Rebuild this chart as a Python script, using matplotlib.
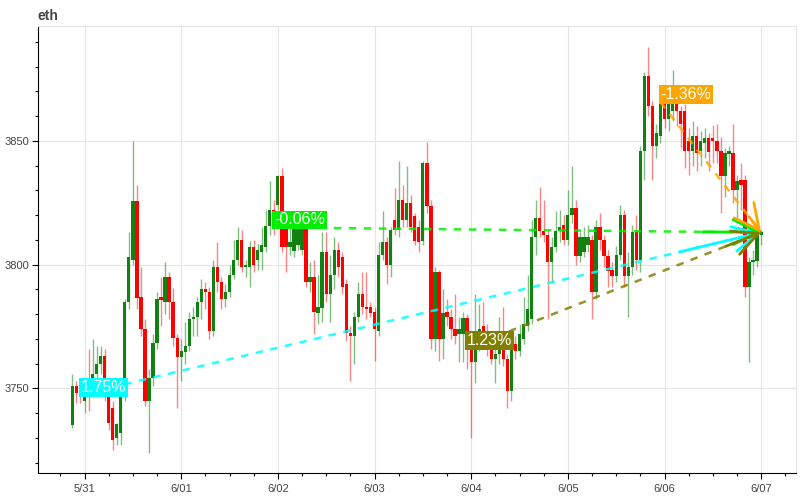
import matplotlib
matplotlib.use('Agg')
import matplotlib.pyplot as plt
import matplotlib.dates as mdates
from matplotlib.ticker import FuncFormatter, MultipleLocator
import numpy as np
import pandas as pd

plt.rcParams['font.family'] = ['Liberation Sans', 'DejaVu Sans']

# hourly candles, eth
times = pd.date_range('2024-05-30 21:00', periods=172, freq='h')

opens = [3735, 3751, 3748, 3745, 3752, 3749, 3756, 3760, 3763, 3748, 3742, 3730, 3732, 3747,
         3785, 3802, 3825.5, 3787, 3774, 3745, 3754, 3768.5, 3787, 3785, 3795, 3785, 3770.5,
         3762.5, 3764.5, 3767, 3778, 3779, 3785, 3790, 3789, 3773, 3799, 3793, 3786, 3789,
         3796, 3802, 3810, 3799, 3799, 3807, 3802, 3805, 3807, 3815.5, 3822, 3824, 3835.6,
         3815, 3807, 3805.5, 3808, 3806, 3815, 3793, 3795, 3780.6, 3782.6, 3805, 3788, 3796,
         3806, 3803, 3792, 3772.5, 3771, 3779, 3788, 3783, 3783, 3781, 3773, 3804, 3809, 3800,
         3818, 3814, 3826, 3818, 3825, 3819.5, 3815, 3809.5, 3841, 3823.5, 3770, 3797, 3770,
         3781, 3779, 3774, 3772, 3772, 3778.6, 3766, 3760.5, 3768, 3775, 3771, 3767, 3762,
         3764, 3771, 3762, 3749, 3768, 3765, 3770, 3775, 3778, 3811, 3819, 3813.5, 3812, 3801,
         3807, 3813.5, 3816, 3810, 3820, 3823, 3803.5, 3805, 3808, 3810, 3789, 3815, 3810,
         3803.5, 3798, 3795.5, 3804, 3820, 3795.5, 3799, 3813, 3802, 3846, 3876, 3864, 3848,
         3852, 3866, 3859, 3862, 3866.5, 3862, 3862, 3850, 3846, 3852, 3846, 3849, 3851, 3851,
         3850, 3845.7, 3835.6, 3844.5, 3845, 3830, 3834, 3834, 3791, 3801, 3801.5, 3812]
highs = [3756, 3753, 3752, 3750, 3766, 3770, 3767, 3767, 3766, 3750, 3745, 3736, 3749, 3786,
         3813, 3850, 3832, 3799, 3778, 3758, 3772, 3789, 3795, 3801, 3797, 3790.5, 3772, 3770,
         3777, 3781, 3783, 3787, 3794, 3793, 3791, 3802, 3809, 3795, 3792, 3800, 3810, 3815,
         3814, 3802, 3809.5, 3810, 3808.5, 3815, 3822, 3833.6, 3826, 3836, 3839, 3817, 3815,
         3818, 3818, 3817, 3817, 3801, 3802, 3796, 3813, 3813, 3804, 3811, 3809, 3805, 3794,
         3775, 3781, 3793, 3797, 3797, 3785, 3783, 3809, 3821.5, 3811, 3815, 3831, 3842, 3832,
         3840, 3828, 3821, 3818, 3842, 3849.7, 3826, 3799, 3798, 3790, 3786, 3782, 3788, 3779,
         3781, 3780, 3770, 3788, 3784, 3785, 3776, 3769, 3771, 3779, 3783, 3764, 3770, 3771,
         3776, 3787, 3796, 3818, 3826, 3831.5, 3826, 3814, 3811, 3821.5, 3822, 3820, 3830,
         3840, 3826, 3813, 3815, 3816, 3812, 3818, 3821, 3812, 3806, 3801, 3807.5, 3824, 3822,
         3805, 3816, 3820, 3848, 3878, 3888, 3866, 3857, 3870, 3868, 3870, 3878.6, 3870, 3864,
         3865, 3855, 3858, 3856, 3854, 3855, 3853, 3856.5, 3857, 3851.5, 3847, 3848, 3857,
         3836, 3841, 3836, 3803, 3806, 3815, 3814]
lows = [3734, 3744, 3744, 3740, 3741, 3747, 3750, 3756, 3745, 3733, 3725, 3727, 3727, 3745,
        3782, 3800, 3782, 3771, 3743, 3724, 3751, 3766, 3775, 3780, 3778, 3767, 3742, 3753,
        3760, 3765, 3771, 3771, 3778, 3782, 3770, 3771, 3789, 3782, 3783, 3787, 3794, 3800,
        3797, 3795, 3791, 3797, 3798, 3798, 3805, 3812, 3812, 3822, 3805, 3797, 3804, 3803,
        3806, 3804, 3791, 3789, 3772, 3776, 3777, 3785, 3777, 3790, 3795, 3788, 3769, 3753,
        3760, 3777, 3780, 3778, 3779, 3761, 3771, 3802, 3792, 3795, 3812, 3811, 3815, 3815,
        3813, 3808, 3805, 3808, 3821, 3766, 3765, 3761, 3762, 3775, 3770, 3768, 3760.5, 3760.5,
        3758, 3730, 3752, 3765, 3766, 3763, 3760, 3752, 3760, 3759, 3742, 3745, 3762, 3763,
        3768, 3773, 3776, 3804, 3811, 3809, 3778, 3792.5, 3805, 3809, 3808, 3808, 3817, 3800,
        3801, 3803, 3805, 3778, 3786, 3806, 3799, 3791, 3791, 3793, 3802, 3791, 3779, 3796,
        3798, 3797, 3834, 3860, 3834, 3843, 3849, 3855, 3854, 3858, 3856, 3847, 3839, 3836,
        3840, 3838, 3840, 3843, 3838, 3841, 3841, 3821, 3827.5, 3840, 3825, 3818, 3822, 3787,
        3760.5, 3796, 3799, 3808]
closes = [3751, 3748, 3747.4, 3748, 3749, 3756, 3760, 3763, 3748, 3736, 3729, 3735.5, 3747.6,
          3785, 3803, 3825.5, 3786.6, 3774, 3745, 3754, 3768.5, 3786, 3785.5, 3795, 3785,
          3770.5, 3762.5, 3765, 3767, 3778, 3779, 3785, 3790, 3789, 3773, 3799, 3793, 3786,
          3789, 3796, 3802, 3810, 3799, 3800, 3807, 3800, 3806, 3808, 3815.5, 3822, 3815,
          3835.6, 3807, 3807, 3809, 3816, 3816, 3815, 3793, 3795, 3781, 3783, 3805, 3788, 3796,
          3806, 3799, 3791, 3772.5, 3771, 3779, 3788, 3783, 3782, 3780.5, 3774, 3804, 3809,
          3800, 3814, 3814, 3826, 3818, 3825, 3815, 3809.5, 3809, 3841, 3823.5, 3770, 3797,
          3770, 3780.6, 3779, 3774, 3771, 3774, 3778.6, 3766.4, 3760.5, 3771, 3774, 3771, 3767,
          3762, 3764, 3767, 3762, 3749, 3766.5, 3765, 3772, 3776, 3782, 3811, 3819, 3813.5,
          3812, 3801, 3807, 3813.5, 3815, 3810, 3820, 3823, 3803.5, 3811, 3811, 3811, 3789,
          3815, 3810, 3803.5, 3797.5, 3795.5, 3804, 3820, 3795.5, 3799, 3813, 3802, 3846, 3876,
          3864, 3848, 3853, 3865.6, 3859, 3866, 3870.5, 3862, 3857, 3846, 3846, 3852, 3845,
          3850, 3851, 3845.6, 3850, 3846, 3835.6, 3845, 3846, 3830, 3833.6, 3832, 3791, 3801,
          3802, 3813, 3813]

# change markers: start candle -> last candle
mark_starts = [2, 50, 98, 146]
mark_labels = ['1.75%', '-0.06%', '1.23%', '-1.36%']
mark_colors = ['#00ffff', '#00ee00', '#808000', '#ffa500']

x = mdates.date2num(times)
o = np.array(opens)
h = np.array(highs)
l = np.array(lows)
c = np.array(closes)
up = c >= o

fig = plt.figure(figsize=(8, 5), dpi=100)
ax = fig.add_axes([0.0475, 0.054, 0.947, 0.893])

w = 0.82 / 24
ax.vlines(x[up], l[up], h[up], color='#1a8c1a', alpha=0.55, lw=1, zorder=2)
ax.vlines(x[~up], l[~up], h[~up], color='#ff2020', alpha=0.55, lw=1, zorder=2)
body = np.maximum(np.abs(c - o), 0.5)
ax.bar(x[up], body[up], bottom=np.minimum(o, c)[up], width=w, color='#128012', zorder=3)
ax.bar(x[~up], body[~up], bottom=np.minimum(o, c)[~up], width=w, color='#ff0000', zorder=3)

end_x, end_y = x[-1], c[-1]
for i, lab, col in zip(mark_starts, mark_labels, mark_colors):
    sx, sy = x[i], c[i]
    ax.plot([sx, end_x], [sy, end_y], ls=(0, (3, 3)), color=col, lw=1.8, alpha=0.85, zorder=4)
    bx = end_x - 0.12 * (end_x - sx)
    by = end_y - 0.12 * (end_y - sy)
    ax.annotate('', xy=(end_x, end_y), xytext=(bx, by),
                arrowprops=dict(arrowstyle='->,head_length=0.9,head_width=0.45',
                                color=col, lw=2, mutation_scale=20, shrinkA=0, shrinkB=0),
                zorder=5)
    ax.text(sx, sy, lab, ha='left', va='bottom', color='white', fontsize=11.5, zorder=6,
            bbox=dict(boxstyle='square,pad=0.12', fc=col, ec='none'))

span = x[-1] - x[0]
ax.set_xlim(x[0] - 0.05 * span, x[-1] + 0.05 * span)
lo, hi = l.min(), h.max()
ax.set_ylim(lo - 0.05 * (hi - lo), hi + 0.05 * (hi - lo))

ax.xaxis.set_major_locator(mdates.DayLocator())
ax.xaxis.set_major_formatter(FuncFormatter(
    lambda v, p: '%d/%02d' % (mdates.num2date(v).month, mdates.num2date(v).day)))
ax.xaxis.set_minor_locator(mdates.HourLocator(byhour=[6, 12, 18]))
ax.yaxis.set_major_locator(MultipleLocator(50))
ax.yaxis.set_minor_locator(MultipleLocator(10))

ax.grid(True, which='major', color='#e5e5e5', lw=0.8)
ax.set_axisbelow(True)
for s in ['top', 'right']:
    ax.spines[s].set_color('#e5e5e5')
for s in ['left', 'bottom']:
    ax.spines[s].set_color('black')
ax.tick_params(which='major', direction='out', length=4, width=0.8, labelsize=8,
               labelcolor='#444444', pad=2)
ax.tick_params(which='minor', direction='out', length=2.5, width=0.8)
ax.tick_params(axis='x', which='major', pad=4)

fig.text(0.0475, 0.968, 'eth', fontsize=10, fontweight='bold', color='#444444',
         ha='left', va='center')

fig.savefig('out.png', dpi=100)
